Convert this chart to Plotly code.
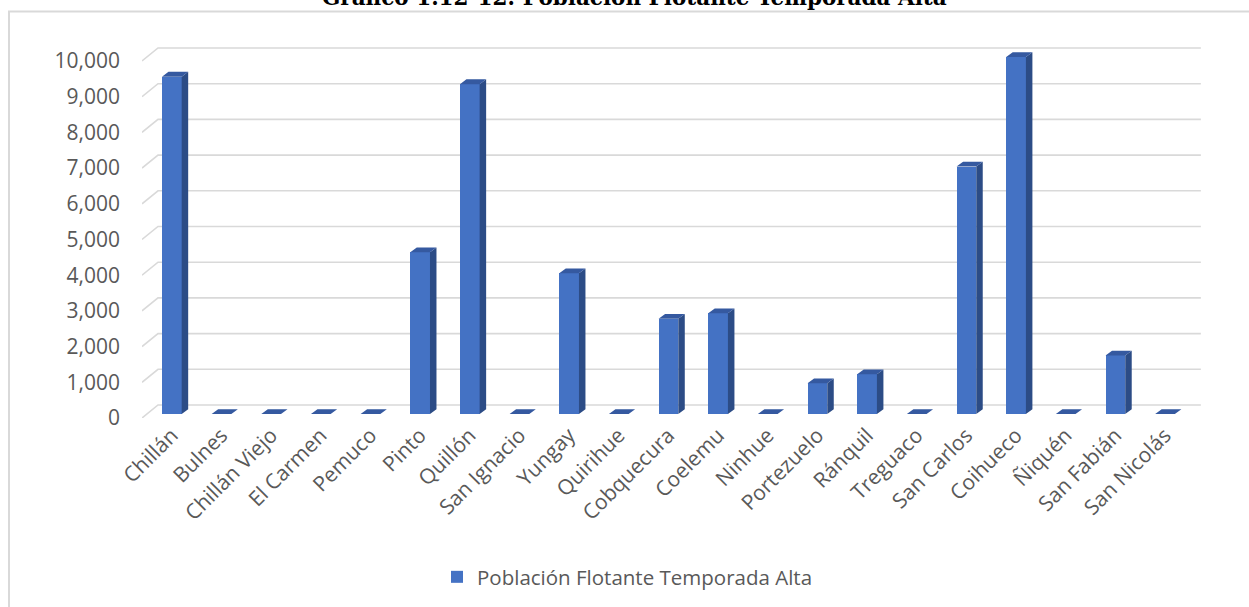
import plotly.graph_objects as go

# ---------------- data ----------------
comunas = ["Chillán", "Bulnes", "Chillán Viejo", "El Carmen", "Pemuco", "Pinto",
           "Quillón", "San Ignacio", "Yungay", "Quirihue", "Cobquecura", "Coelemu",
           "Ninhue", "Portezuelo", "Ránquil", "Treguaco", "San Carlos", "Coihueco",
           "Ñiquén", "San Fabián", "San Nicolás"]
poblacion = [9450, 0, 0, 0, 0, 4530, 9240, 0, 3940, 0, 2670, 2820,
             0, 860, 1110, 0, 6930, 10000, 0, 1640, 0]
y_ticks = list(range(0, 10001, 1000))
serie = "Población Flotante Temporada Alta"
titulo = "Gráfico 1.12-12: Población Flotante Temporada Alta"

# ---------------- geometry / style ----------------
W_PX, H_PX = 1249, 607
M_L, M_R, M_T, M_B = 142, 46, 40, 189
PLOT_W = W_PX - M_L - M_R
PLOT_H = H_PX - M_T - M_B
PX_PER_CAT = 49.66
PX_PER_VAL = 35.7 / 1000.0
X_RANGE = [-0.5, -0.5 + PLOT_W / PX_PER_CAT]
Y_RANGE = [0, PLOT_H / PX_PER_VAL]

# 3-D depth of the floor/back wall (in data units)
DX = 16 / PX_PER_CAT
DY = 13 / PX_PER_VAL
# bar front-face offset from the front plane
BX = 5 / PX_PER_CAT
BY = 4 / PX_PER_VAL
# bar size
BW = 19.7 / PX_PER_CAT
BDX = 6.5 / PX_PER_CAT
BDY = 4.8 / PX_PER_VAL

C_FRONT = "#4472C4"
C_SIDE = "#2C4C86"
C_TOP = "#3559A0"
C_GRID = "#D9D9D9"
C_TEXT = "#595959"
FONT = "Open Sans"

n = len(comunas)
idx = list(range(n))

fig = go.Figure()

# front faces (bar trace)
fig.add_trace(go.Bar(
    x=idx, y=poblacion, base=BY, width=BW, offset=BX - BW / 2,
    marker=dict(color=C_FRONT, line=dict(width=0)),
    name=serie, showlegend=True, hoverinfo="skip",
))

# side faces and top faces
sx, sy, tx, ty = [], [], [], []
for i, v in zip(idx, poblacion):
    xl = i + BX - BW / 2
    xr = xl + BW
    b = BY
    top = BY + v
    if v > 0:
        sx += [xr, xr, xr + BDX, xr + BDX, xr, None]
        sy += [b, top, top + BDY, b + BDY, b, None]
    tx += [xl, xr, xr + BDX, xl + BDX, xl, None]
    ty += [top, top, top + BDY, top + BDY, top, None]

fig.add_trace(go.Scatter(x=sx, y=sy, mode="lines", fill="toself",
                         fillcolor=C_SIDE, line=dict(width=0, color=C_SIDE),
                         showlegend=False, hoverinfo="skip"))
fig.add_trace(go.Scatter(x=tx, y=ty, mode="lines", fill="toself",
                         fillcolor=C_TOP, line=dict(width=0, color=C_TOP),
                         showlegend=False, hoverinfo="skip"))

# back-wall gridlines with slanted floor/side segments
shapes = []
x_left = X_RANGE[0]
x_right_back = n - 0.5 + DX
for v in y_ticks:
    shapes.append(dict(type="path", xref="x", yref="y", layer="below",
                       path=f"M {x_left},{v} L {x_left + DX},{v + DY} L {x_right_back},{v + DY}",
                       line=dict(color=C_GRID, width=1.6)))

# chart frame
def px_to_paper_x(px):
    return (px - M_L) / PLOT_W

def px_to_paper_y(py):
    return (H_PX - M_B - py) / PLOT_H

shapes.append(dict(type="rect", xref="paper", yref="paper", layer="below",
                   x0=px_to_paper_x(9), x1=px_to_paper_x(1300),
                   y0=px_to_paper_y(11.5), y1=px_to_paper_y(700),
                   line=dict(color=C_GRID, width=2), fillcolor="rgba(0,0,0,0)"))

fig.add_annotation(text=f"<b>{titulo}</b>", xref="paper", yref="paper",
                   x=px_to_paper_x(634), y=px_to_paper_y(-2.3),
                   xanchor="center", yanchor="middle", showarrow=False,
                   font=dict(family="DejaVu Serif", size=21.5, color="#000000"))

fig.update_layout(
    width=W_PX, height=H_PX,
    margin=dict(l=M_L, r=M_R, t=M_T, b=M_B),
    paper_bgcolor="white", plot_bgcolor="white",
    shapes=shapes,
    xaxis=dict(range=X_RANGE, tickmode="array",
               tickvals=[i + BX for i in idx], ticktext=comunas,
               tickangle=-45, showgrid=False, zeroline=False, showline=False,
               ticks="", tickfont=dict(family=FONT, size=21, color=C_TEXT)),
    yaxis=dict(range=Y_RANGE, tickmode="array", tickvals=y_ticks,
               tickformat=",d", showgrid=False, zeroline=False, showline=False,
               ticks="", ticklabelstandoff=21,
               tickfont=dict(family=FONT, size=21, color=C_TEXT)),
    legend=dict(orientation="h", xref="container", yref="container",
                x=437 / W_PX, xanchor="left", y=1 - 577 / H_PX, yanchor="middle",
                font=dict(family=FONT, size=20.5, color=C_TEXT)),
    bargap=0,
)

fig.write_html("out.html", config={"displayModeBar": False},
               post_script="document.body.style.margin='0px';")
